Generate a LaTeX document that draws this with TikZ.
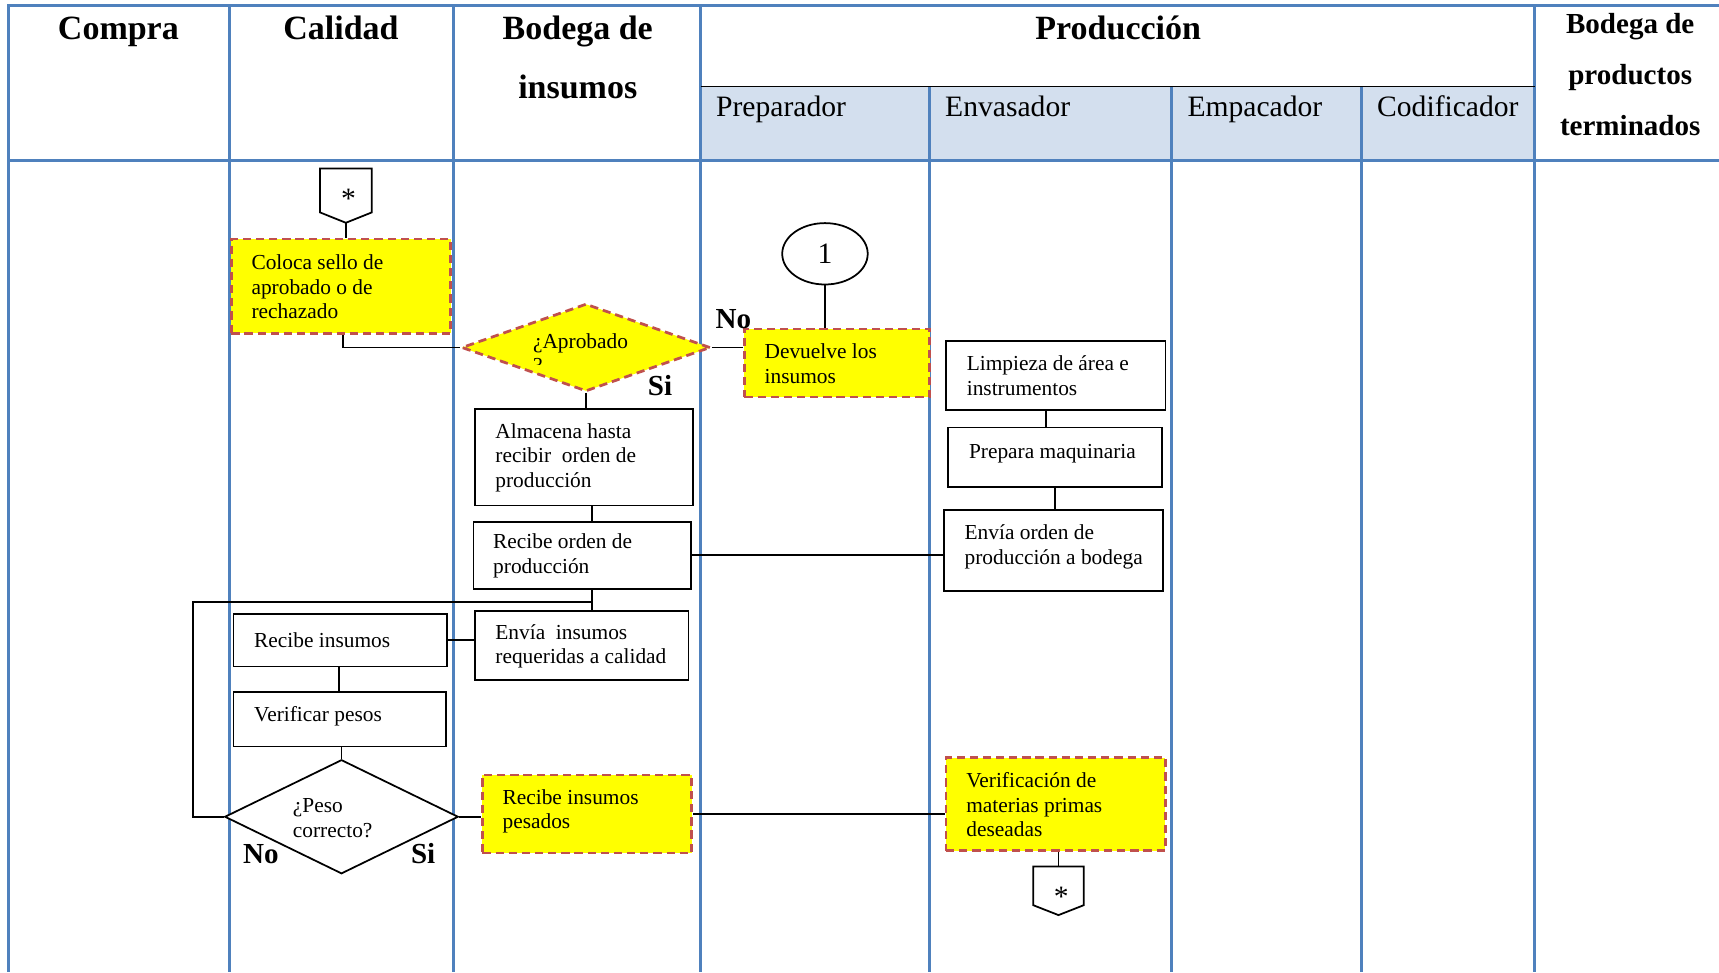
\documentclass[tikz,border=0pt]{standalone}
\usepackage{fontspec}
\setmainfont{Liberation Serif}
\usetikzlibrary{shapes.geometric,calc}

\definecolor{lanecol}{RGB}{79,129,189}
\definecolor{subfill}{RGB}{211,223,238}
\definecolor{dashred}{RGB}{192,80,77}
\definecolor{hlyellow}{RGB}{255,255,0}

\newcommand\fBody{\fontsize{19.5}{22.5}\selectfont}
\newcommand\fHead{\fontsize{31}{36}\selectfont\bfseries}
\newcommand\fHeadR{\fontsize{26.5}{30}\selectfont\bfseries}
\newcommand\fSub{\fontsize{27}{30}\selectfont}
\newcommand\fMark{\fontsize{26.5}{30}\selectfont\bfseries}
\newcommand\fStar{\fontsize{27}{30}\selectfont}

\tikzset{
  laneline/.style={draw=lanecol, line width=2.7},
  conn/.style={draw=black, line width=1.6},
  procbox/.style={rectangle, draw=black, line width=1.6, fill=white, inner sep=0},
  hlstyle/.style={draw=dashred, fill=hlyellow, line width=2.5,
    dash pattern=on 7.5pt off 4.5pt, inner sep=0},
  hlbox/.style={rectangle, hlstyle},
  hldiamond/.style={diamond, hlstyle},
  txt/.style={font=\fBody, align=left, inner sep=0, anchor=west},
  headtxt/.style={font=\fHead, inner sep=0, anchor=base},
  headtxtR/.style={font=\fHeadR, inner sep=0, anchor=base},
  subtxt/.style={font=\fSub, inner sep=0, anchor=base west},
  marktxt/.style={font=\fMark, inner sep=0},
  offpage/.style={rectangle, inner sep=0},
  startxt/.style={font=\fStar, inner sep=0},
}

\begin{document}
\begin{tikzpicture}[x=1pt, y=-1pt]
\useasboundingbox (0,0) rectangle (1568,887);

% ---------- swimlane table ----------
\fill[subfill] (639,79) rectangle (1400,146);
\foreach \xx in {8,209,414,639,1400}
  \draw[laneline] (\xx,5) -- (\xx,887);
\foreach \xx in {848,1069,1242}
  \draw[laneline] (\xx,79) -- (\xx,887);
\draw[laneline] (6.65,5) -- (1568,5);
\draw[laneline] (6.65,146) -- (1568,146);
\draw[black, line width=1.6] (639,79) -- (1400,79);

% lane titles
\node[headtxt] (h-compra) at (108,36) {Compra};
\node[headtxt] (h-calidad) at (311,36) {Calidad};
\node[headtxt] (h-bodega1) at (527,36) {Bodega de};
\node[headtxt] (h-bodega2) at (527,90) {insumos};
\node[headtxt] (h-prod) at (1020,36) {Producción};
\node[headtxtR] (h-bpt1) at (1487,30.5) {Bodega de};
\node[headtxtR] (h-bpt2) at (1487,77) {productos};
\node[headtxtR] (h-bpt3) at (1487,123.5) {terminados};
\node[subtxt] (s-prep) at (653,106) {Preparador};
\node[subtxt] (s-env) at (862,106) {Envasador};
\node[subtxt] (s-emp) at (1083,106) {Empacador};
\node[subtxt] (s-cod) at (1256,106) {Codificador};

% ---------- shapes ----------
% off-page connector at the start
\node[offpage, minimum width=47, minimum height=49] (c1) at (315.5,178.5) {};
\draw[conn, fill=white] (c1.north west) -- (c1.north east) -- ([yshift=9.5]c1.south east)
  -- (c1.south) -- ([yshift=9.5]c1.south west) -- cycle;
\node[startxt] (c1s) at (318,181) {*};

% quality stamp
\node[hlbox, minimum width=200, minimum height=86] (sello) at (311,261) {};
\node[txt] (sello-t) at ([xshift=19.5,yshift=-0.5]sello.west) {Coloca sello de\\aprobado o de\\rechazado};

% approval decision
\node[hldiamond, minimum width=227, minimum height=80] (aprob) at (534.5,317) {};
\node[font=\fBody, inner sep=0, anchor=base west] (aprob-t) at (486,317.7) {¿Aprobado};
\begin{scope}
  \clip (470,300) rectangle (600,332.5);
  \node[font=\fBody, inner sep=0, anchor=base west] (aprob-q) at (486,340.2) {?};
\end{scope}

% return of supplies
\node[ellipse, draw=black, line width=1.6, fill=white, minimum width=78, minimum height=56,
  inner sep=0, font=\fSub] (uno) at (752.5,231.5) {1};
\node[hlbox, minimum width=169, minimum height=62] (devuelve) at (763.5,331) {};
\node[txt] (devuelve-t) at ([xshift=19.5,yshift=-0.5]devuelve.west) {Devuelve los\\insumos};

% warehouse of supplies
\node[procbox, minimum width=199, minimum height=88] (almacena) at (532.5,417) {};
\node[txt] (almacena-t) at ([xshift=19.5,yshift=-0.5]almacena.west) {Almacena hasta\\recibir\ \ orden de\\producción};
\node[procbox, minimum width=198, minimum height=61] (reciborden) at (531,506.5) {};
\node[txt] (reciborden-t) at ([xshift=18.5,yshift=-0.5]reciborden.west) {Recibe orden de\\producción};
\node[procbox, minimum width=195, minimum height=63] (enviains) at (530.5,588.5) {};
\node[txt] (enviains-t) at ([xshift=19.5,yshift=-1]enviains.west) {Envía\ \ insumos\\requeridas a calidad};

% filler (envasador)
\node[procbox, minimum width=200, minimum height=63] (limpieza) at (963,342.5) {};
\node[txt] (limpieza-t) at ([xshift=19.5]limpieza.west) {Limpieza de área e\\instrumentos};
\node[procbox, minimum width=195, minimum height=54] (prepara) at (962.5,417) {};
\node[txt] (prepara-t) at ([xshift=19.5,yshift=3]prepara.west) {Prepara maquinaria};
\node[procbox, minimum width=200, minimum height=74] (enviaorden) at (961,502) {};
\node[txt] (enviaorden-t) at ([xshift=19.5,yshift=3]enviaorden.west) {Envía orden de\\producción a bodega};

% quality: weighing
\node[procbox, minimum width=195, minimum height=48] (recibeins) at (310.5,584) {};
\node[txt] (recibeins-t) at ([xshift=19.5]recibeins.west) {Recibe insumos};
\node[procbox, minimum width=194, minimum height=50] (verificar) at (310,656) {};
\node[txt] (verificar-t) at ([xshift=19.5,yshift=2.5]verificar.west) {Verificar pesos};
\node[diamond, draw=black, line width=1.6, fill=white, minimum width=213, minimum height=104,
  inner sep=0] (peso) at (311.5,745) {};
\node[txt] (peso-t) at (267,746.5) {¿Peso\\correcto?};

\node[hlbox, minimum width=191, minimum height=71] (pesados) at (535.5,742.5) {};
\node[txt] (pesados-t) at ([xshift=19.5,yshift=2.5]pesados.west) {Recibe insumos\\pesados};
\node[hlbox, minimum width=200, minimum height=85] (verifmp) at (963,733.5) {};
\node[txt] (verifmp-t) at ([xshift=19.5,yshift=-0.5]verifmp.west) {Verificación de\\materias primas\\deseadas};

% off-page connector at the end
\node[offpage, minimum width=45.5, minimum height=44] (c2) at (965.5,812.5) {};
\draw[conn, fill=white] (c2.north west) -- (c2.north east) -- ([yshift=9]c2.south east)
  -- (c2.south) -- ([yshift=9]c2.south west) -- cycle;
\node[startxt] (c2s) at (968,818) {*};

% branch labels
\node[marktxt] (l-no1) at (669,291) {No};
\node[marktxt] (l-si1) at (602,352) {Si};
\node[marktxt] (l-no2) at (238,779) {No};
\node[marktxt] (l-si2) at (386,779) {Si};

% ---------- connectors ----------
\draw[conn] (c1.south) -- (c1.south |- sello.north);
\draw[conn] ([xshift=2]sello.south) |- (aprob.west);
\draw[conn] (aprob.east) -- (aprob.east -| devuelve.west);
\draw[conn] (uno.south) -- (uno.south |- devuelve.north);
\draw[conn] (aprob.south) -- (aprob.south |- almacena.north);
\coordinate (aj) at ([xshift=7.5]almacena.south);
\draw[conn] (aj) -- (aj |- reciborden.north);
\draw[conn] (reciborden.east) -- (reciborden.east -| enviaorden.west);
\coordinate (lj) at ([xshift=-9]limpieza.south);
\draw[conn] (lj) -- (lj |- prepara.north);
\draw[conn] (prepara.south) -- (prepara.south |- enviaorden.north);
\coordinate (rj) at ([xshift=9]reciborden.south);
\draw[conn] (rj) -- (rj |- enviains.north);
\coordinate (loop) at (176,549);
\draw[conn] (peso.west) -| (loop) -- (loop -| rj);
\draw[conn] (recibeins.east) -- (recibeins.east -| enviains.west);
\draw[conn] ([xshift=-1.5]recibeins.south) -- ([xshift=-1.5]recibeins.south |- verificar.north);
\draw[conn] ([xshift=1.5]verificar.south) -- (peso.north);
\draw[conn] (peso.east) -- (peso.east -| pesados.west);
\draw[conn] (pesados.east) -- (pesados.east -| verifmp.west);
\draw[conn] (c2.north |- verifmp.south) -- (c2.north);
\end{tikzpicture}
\end{document}
